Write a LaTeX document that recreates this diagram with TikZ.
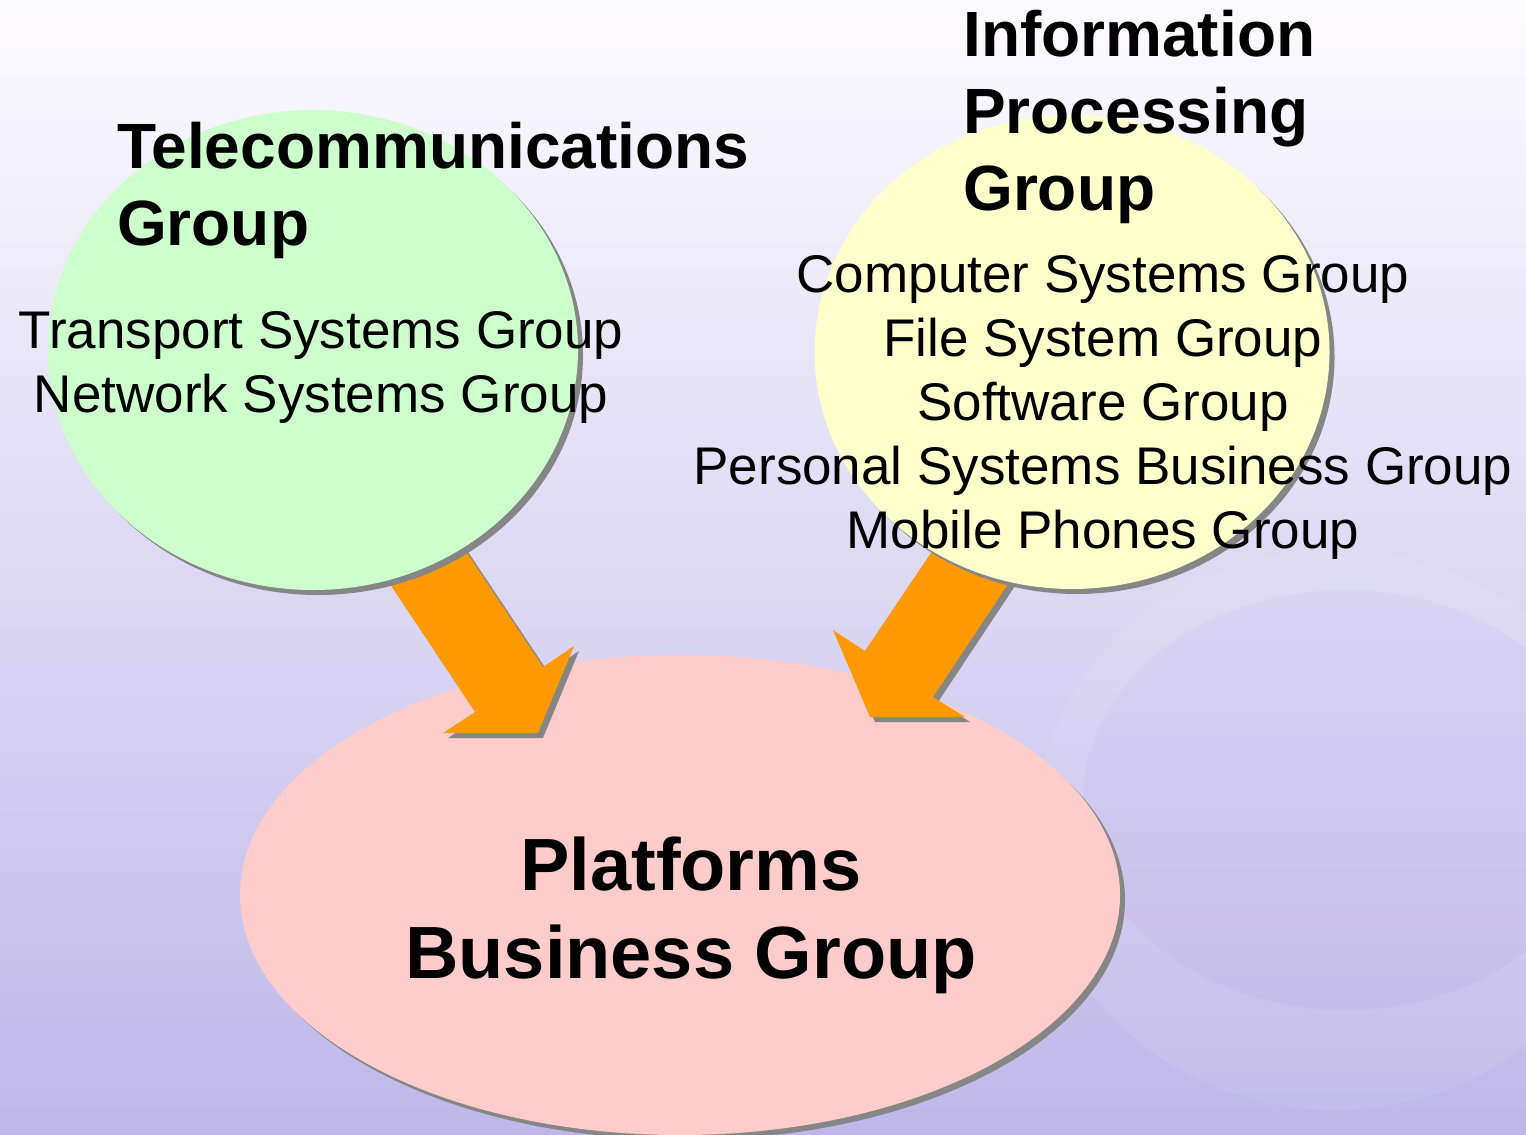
\documentclass[tikz,border=0pt]{standalone}
\usepackage{fontspec}
\setmainfont{Liberation Sans}
\usetikzlibrary{shapes.geometric,shadows}
\definecolor{bgtop}{HTML}{FCFBFF}
\definecolor{bgmid}{HTML}{E8E2F4}
\definecolor{bgbot}{HTML}{BFB7E9}
\definecolor{tgreen}{HTML}{CCFFCC}
\definecolor{tyellow}{HTML}{FFFFCC}
\definecolor{tpink}{HTML}{FFCCCC}
\definecolor{torange}{HTML}{FF9900}
\definecolor{shadowgray}{HTML}{868686}
\tikzset{
  shadowed/.style={general shadow={fill=shadowgray, shadow xshift=5pt, shadow yshift=-5pt}},
  blob/.style={ellipse, inner sep=0pt, outer sep=0pt, shadowed},
  blockarrow/.style={fill=torange, shadowed},
  headtext/.style={inner sep=0pt, font=\fontsize{64}{77}\selectfont\bfseries},
  listtext/.style={inner sep=0pt, align=center, font=\fontsize{53}{64}\selectfont},
  bigtext/.style={inner sep=0pt, align=center, font=\fontsize{74}{88}\selectfont\bfseries}
}
\begin{document}
\begin{tikzpicture}[x=1pt,y=-1pt]
\useasboundingbox (0,0) rectangle (1526,1135);
\shade[top color=bgtop, middle color=bgmid, bottom color=bgbot] (0,0) rectangle (1526,1135);
% faint decoration
\begin{scope}
\clip (0,0) rectangle (1526,1135);
\fill[white, opacity=0.08, even odd rule] (1335,830) ellipse [x radius=300, y radius=280] (1345,800) ellipse [x radius=262, y radius=210];
\fill[bgbot, opacity=0.08] (1345,800) ellipse [x radius=262, y radius=210];
\end{scope}
% pink ellipse
\node[blob, fill=tpink, minimum width=880, minimum height=480] (plat) at (680,895) {};
% arrows
\coordinate (la1) at (380,569);
\coordinate (la2) at (475,712);
\coordinate (la3) at (443,733);
\coordinate (la4) at (538,733);
\coordinate (la5) at (574,646);
\coordinate (la6) at (543,667);
\coordinate (la7) at (455,535);
\draw[blockarrow, draw=none] (la1) -- (la2) -- (la3) -- (la4) -- (la5) -- (la6) -- (la7) -- cycle;
\coordinate (ra1) at (945,532);
\coordinate (ra2) at (865,651);
\coordinate (ra3) at (833,630);
\coordinate (ra4) at (870,717);
\coordinate (ra5) at (965,717);
\coordinate (ra6) at (933,697);
\coordinate (ra7) at (1020,566);
\draw[blockarrow, draw=none] (ra1) -- (ra2) -- (ra3) -- (ra4) -- (ra5) -- (ra6) -- (ra7) -- cycle;
% upper ellipses
\node[blob, fill=tgreen, minimum width=530, minimum height=480] (tele) at (313,350) {};
\node[blob, fill=tyellow, minimum width=515, minimum height=474] (info) at (1072,352) {};
% texts (base anchor = baseline of last line)
\node[headtext, align=left, anchor=base west] (teletitle) at (117,245) {Telecommunications\\Group};
\node[listtext, anchor=base] (telelist) at (321,412) {Transport Systems Group\\Network Systems Group};
\node[headtext, align=left, anchor=base west] (infotitle) at (963,210) {Information\\Processing\\Group};
\node[listtext, anchor=base] (infolist) at (1103,548) {Computer Systems Group\\File System Group\\Software Group\\Personal Systems Business Group\\Mobile Phones Group};
\node[bigtext, anchor=base] (plattitle) at (691,978) {Platforms\\Business Group};
\end{tikzpicture}
\end{document}
